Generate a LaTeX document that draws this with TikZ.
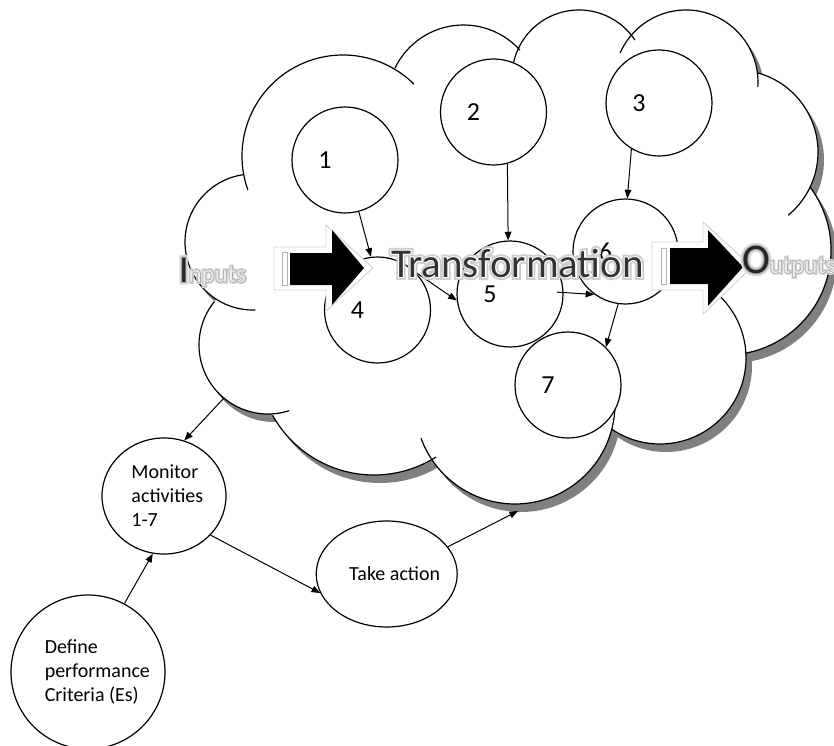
\documentclass[tikz,border=0pt]{standalone}
\usepackage{fontspec}
\setmainfont{Carlito}
% emboldened faces of the same family, used as the glow and rim behind the captions
\newfontfamily\glowfont[FakeBold=14]{Carlito}
\newfontfamily\rimfont[FakeBold=5]{Carlito}
\usetikzlibrary{arrows.meta,shapes.geometric}

\newcommand\inputsword[2]{{\fontsize{28.5pt}{30pt}\selectfont\color{#1}I}{\fontsize{18.75pt}{20pt}\selectfont\color{#2}nputs}}
\newcommand\outputsword[2]{{\fontsize{31.5pt}{33pt}\selectfont\color{#1}O}{\fontsize{18.75pt}{20pt}\selectfont\color{#2}utputs}}
% a caption drawn three times: wide glow, narrow rim, body
% #1 glow colour, #2 rim colour, #3 one-colour word macro, #4 body
\newcommand\glowcaption[4]{%
  \rlap{\glowfont #3{#1}}\rlap{\rimfont #3{#2}}#4}

% the cloud body: its bumps plus the polygon through their centres
\newcommand\cloudbody[1]{%
  \foreach \cx/\cy/\r in {343/156/101, 463.5/101/76, 579/77/67, 686/82/72,
      736/152/82, 726/250/105, 660/358/86, 515/404/100, 374/359/116,
      268/345/69, 253/242/68}{\fill[#1] (\cx,\cy) circle[radius=\r];}
  \fill[#1] (343,156) -- (463.5,101) -- (579,77) -- (686,82) -- (736,152)
    -- (726,250) -- (660,358) -- (515,404) -- (374,359) -- (268,345)
    -- (253,242) -- cycle;}

\newcommand\transword[1]{{\fontsize{30.7pt}{31pt}\selectfont\color{#1}Transformation}}
\newcommand\inputsplain[1]{\inputsword{#1}{#1}}
\newcommand\outputsplain[1]{\outputsword{#1}{#1}}

\begin{document}
\begin{tikzpicture}[x=0.75pt, y=-0.75pt,
  cloudline/.style={line width=0.9pt},
  bubble/.style={circle, draw, line width=0.9pt, fill=white, inner sep=0pt},
  oval/.style={ellipse, draw, line width=0.9pt, fill=white, inner sep=0pt},
  numtext/.style={font=\fontsize{19.5pt}{20pt}\selectfont},
  bodytext/.style={font=\fontsize{15pt}{18pt}\selectfont, align=left},
  conn/.style={line width=0.75pt, -{Triangle[length=6.5pt,width=5pt]}},
  glowshape/.style={fill=white, draw=gray!35, line width=0.7pt},
  caption/.style={anchor=base west, inner sep=0pt, outer sep=0pt}]

\useasboundingbox (0,0) rectangle (834,745);

% cloud: shadow, body, outline arcs
\begin{scope}[shift={(6,8)}]
  \cloudbody{black!50}
\end{scope}
\cloudbody{white}
\foreach \cx/\cy/\r/\a/\b in {343/156/101/160.5/314.6, 463.5/101/76/205.7/318,
    579/77/67/193/326.5, 686/82/72/203.7/363.9, 736/152/82/-74.4/50.5,
    726/250/105/-36.9/79.5, 660/358/86/-46/124, 515/404/100/0.6/160,
    374/359/116/57.7/151, 268/345/69/72/219, 253/242/68/88/261.5}
  \draw[cloudline] (\cx,\cy) ++(\a:\r) arc[start angle=\a, end angle=\b, radius=\r];

\coordinate (cloudSW) at (224,398);
\coordinate (cloudS) at (518,511);

% activities 1-7
\node[bubble, minimum size=79.5pt, label={[numtext, xshift=-15pt]center:1}] (n1) at (345,160) {};
\node[bubble, minimum size=79.5pt, label={[numtext, xshift=-15pt]center:2}] (n2) at (493.5,112) {};
\node[bubble, minimum size=79.5pt, label={[numtext, xshift=-15pt]center:3}] (n3) at (659,103) {};
\node[bubble, minimum size=79.5pt, label={[numtext, xshift=-15pt]center:4}] (n4) at (377.5,310) {};
\node[bubble, minimum size=79.5pt, label={[numtext, xshift=-15pt]center:5}] (n5) at (510,294) {};
\node[bubble, minimum size=78.75pt, label={[numtext, xshift=-15pt]center:6}] (n6) at (625.5,251.5) {};
\node[bubble, minimum size=79.5pt, label={[numtext, xshift=-15pt]center:7}] (n7) at (568,385) {};

% control loop outside the cloud
\node[oval, minimum width=93pt, minimum height=87pt,
  label={[bodytext, xshift=2.5pt]center:Monitor\\activities\\1-7}] (mon) at (164,496) {};
\node[bubble, minimum size=115.5pt,
  label={[bodytext, xshift=7pt]center:Define\\performance\\Criteria (Es)}] (def) at (88,672) {};
\node[oval, minimum width=105.75pt, minimum height=79.5pt,
  label={[bodytext, xshift=6pt]center:Take action}] (act) at (386.7,574) {};

% connectors
\draw[conn] (n1.-75) -- (n4.97.5);
\draw[conn] (n2.-75) -- (n5.92);
\draw[conn] (n3.-121) -- (n6.88);
\draw[conn] (n4.45) -- (n5.187);
\draw[conn] ([xshift=-5pt]n5.2) -- (n6.-126);
\draw[conn] (n6.-98) -- (n7.45);
\draw[conn] (cloudSW) -- (mon.70.4);
\draw[conn] (def.62.6) -- (mon.-101.8);
\draw[conn] (mon.-40) -- (act.196.5);
\draw[conn] (act.24.5) -- (cloudS);

% striped block arrows
\draw[glowshape] (274,247) -- (326,247) -- (326,225) -- (373,268) -- (326,311) -- (326,290) -- (274,290) -- cycle;
\draw[fill=white, draw=gray!60, line width=0.5pt] (282,252) rectangle (287,285);
\fill (290,253) -- (332,253) -- (332,230) -- (364,268) -- (332,305) -- (332,285) -- (290,285) -- cycle;

\draw[glowshape] (652,242) -- (703,242) -- (703,222) -- (752,267) -- (703,314) -- (703,290) -- (652,290) -- cycle;
\draw[fill=white, draw=gray!60, line width=0.5pt] (661,248) rectangle (666,284);
\fill (670,248) -- (708,248) -- (708,230) -- (743,267) -- (708,306) -- (708,284) -- (670,284) -- cycle;

% captions
\node[caption] (inputs) at (179,282)
  {\glowcaption{gray!30}{gray!70}{\inputsplain}{\inputsword{black!85}{gray!15}}};
\node[caption] (transf) at (391,277)
  {\glowcaption{gray!40}{white}{\transword}{\transword{black!80}}};
\node[caption] (outputs) at (742,273)
  {\glowcaption{gray!30}{gray!70}{\outputsplain}{\outputsword{black!85}{gray!15}}};
\end{tikzpicture}
\end{document}
